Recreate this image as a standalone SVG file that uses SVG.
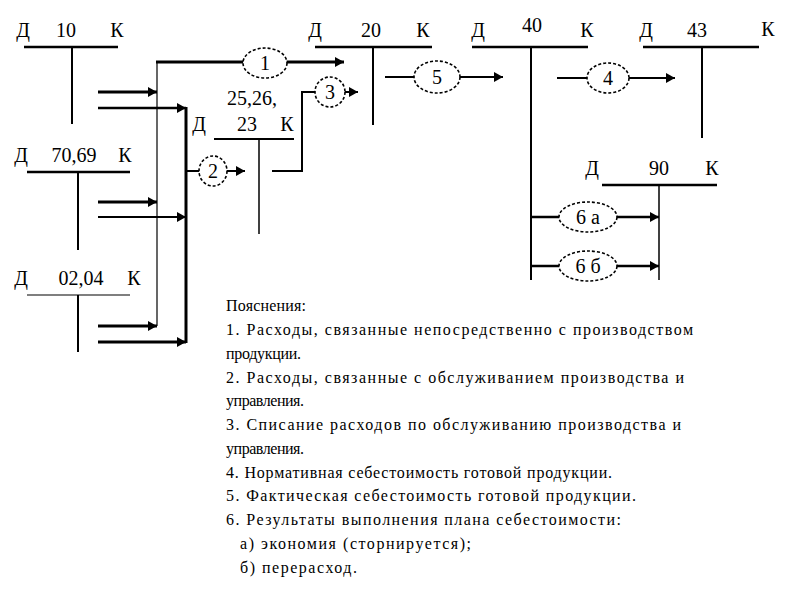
<svg xmlns="http://www.w3.org/2000/svg" width="794" height="595" viewBox="0 0 794 595">
<style>
text{font-family:"Liberation Serif","Times New Roman",serif;fill:#000}
.lb{font-size:20px;text-anchor:middle}
.ex{font-size:16px}
.acc{stroke:#000;fill:none}
.ell{fill:#fff;stroke:#000;stroke-width:1.6;stroke-dasharray:3 2}
.ln{stroke:#000;fill:none}
</style>
<defs>
<marker id="ah" markerUnits="userSpaceOnUse" markerWidth="12" markerHeight="12" refX="9" refY="5" orient="auto">
<path d="M0,0 L9,5 L0,10 z" fill="#000"/>
</marker>
</defs>
<rect width="794" height="595" fill="#fff"/>

<g id="acc10">
<text class="lb" x="23" y="37">Д</text><text class="lb" x="66" y="37">10</text><text class="lb" x="117" y="37">К</text>
<line class="acc" x1="24" y1="47" x2="118" y2="47" stroke-width="2.5"/>
<line class="acc" x1="72" y1="47" x2="72" y2="124" stroke-width="2"/>
</g>
<g id="acc7069">
<text class="lb" x="21" y="162">Д</text><text class="lb" x="74" y="162">70,69</text><text class="lb" x="125" y="162">К</text>
<line class="acc" x1="27" y1="172" x2="130" y2="172" stroke-width="2.5"/>
<line class="acc" x1="78" y1="172" x2="78" y2="250" stroke-width="2"/>
</g>
<g id="acc0204">
<text class="lb" x="21" y="285">Д</text><text class="lb" x="81" y="285">02,04</text><text class="lb" x="134" y="285">К</text>
<line class="acc" x1="27" y1="295" x2="130" y2="295" stroke-width="1.2"/>
<line class="acc" x1="78" y1="295" x2="78" y2="352" stroke-width="2"/>
</g>
<g id="acc252623">
<text class="lb" x="252" y="105">25,26,</text><text class="lb" x="247" y="131">23</text>
<text class="lb" x="199" y="131">Д</text><text class="lb" x="287" y="131">К</text>
<line class="acc" x1="214" y1="139" x2="294" y2="139" stroke-width="2"/>
<line class="acc" x1="259" y1="139" x2="259" y2="234" stroke-width="1.5"/>
</g>
<g id="acc20">
<text class="lb" x="315" y="37">Д</text><text class="lb" x="371" y="37">20</text><text class="lb" x="423" y="37">К</text>
<line class="acc" x1="315" y1="47" x2="432" y2="47" stroke-width="2.5"/>
<line class="acc" x1="373" y1="47" x2="373" y2="125" stroke-width="2"/>
</g>
<g id="acc40">
<text class="lb" x="478" y="37">Д</text><text class="lb" x="532" y="32">40</text><text class="lb" x="587" y="37">К</text>
<line class="acc" x1="472" y1="47" x2="588" y2="47" stroke-width="2.5"/>
<line class="acc" x1="531" y1="47" x2="531" y2="280" stroke-width="2"/>
</g>
<g id="acc43">
<text class="lb" x="646" y="37">Д</text><text class="lb" x="697" y="37">43</text><text class="lb" x="768" y="36">К</text>
<line class="acc" x1="643" y1="47" x2="759" y2="47" stroke-width="2.5"/>
<line class="acc" x1="702" y1="47" x2="702" y2="138" stroke-width="2"/>
</g>
<g id="acc90">
<text class="lb" x="592" y="175">Д</text><text class="lb" x="659" y="175">90</text><text class="lb" x="712" y="175">К</text>
<line class="acc" x1="602" y1="185" x2="717" y2="185" stroke-width="2.5"/>
<line class="acc" x1="659" y1="185" x2="659" y2="280" stroke-width="1.5"/>
</g>

<g id="connectors">
<line class="ln" x1="157" y1="62" x2="157" y2="326" stroke-width="1.2"/>
<line class="ln" x1="186" y1="107" x2="186" y2="343" stroke-width="3"/>
<line class="ln" x1="98" y1="92" x2="157" y2="92" stroke-width="3" marker-end="url(#ah)"/>
<line class="ln" x1="98" y1="108" x2="186" y2="108" stroke-width="2.5" marker-end="url(#ah)"/>
<line class="ln" x1="98" y1="202" x2="157" y2="202" stroke-width="3" marker-end="url(#ah)"/>
<line class="ln" x1="98" y1="217" x2="186" y2="217" stroke-width="2" marker-end="url(#ah)"/>
<line class="ln" x1="98" y1="326" x2="157" y2="326" stroke-width="3" marker-end="url(#ah)"/>
<line class="ln" x1="98" y1="342" x2="186" y2="342" stroke-width="3" marker-end="url(#ah)"/>
<polyline class="ln" points="156,62 344,62" stroke-width="3" marker-end="url(#ah)"/>
<line class="ln" x1="186" y1="171" x2="245" y2="171" stroke-width="2" marker-end="url(#ah)"/>
<polyline class="ln" points="272,171 302,171 302,92 358,92" stroke-width="2" marker-end="url(#ah)"/>
<line class="ln" x1="385" y1="77" x2="503" y2="77" stroke-width="2" marker-end="url(#ah)"/>
<line class="ln" x1="557" y1="78" x2="675" y2="78" stroke-width="2" marker-end="url(#ah)"/>
<line class="ln" x1="531" y1="217" x2="659" y2="217" stroke-width="2.5" marker-end="url(#ah)"/>
<line class="ln" x1="531" y1="266" x2="659" y2="266" stroke-width="2.5" marker-end="url(#ah)"/>
</g>

<g id="op1"><ellipse class="ell" cx="265" cy="63" rx="22" ry="15"/><text class="lb" x="265" y="70">1</text></g>
<g id="op2"><ellipse class="ell" cx="213" cy="171" rx="14" ry="15"/><text class="lb" x="213" y="178">2</text></g>
<g id="op3"><ellipse class="ell" cx="330" cy="92" rx="15" ry="15"/><text class="lb" x="330" y="99">3</text></g>
<g id="op5"><ellipse class="ell" cx="437" cy="77" rx="23" ry="16"/><text class="lb" x="437" y="84">5</text></g>
<g id="op4"><ellipse class="ell" cx="608" cy="78" rx="21" ry="15"/><text class="lb" x="608" y="85">4</text></g>
<g id="op6a"><ellipse class="ell" cx="588" cy="217" rx="29" ry="15"/><text class="lb" x="588" y="224">6 а</text></g>
<g id="op6b"><ellipse class="ell" cx="588" cy="266" rx="29" ry="15"/><text class="lb" x="588" y="273">6 б</text></g>

<g id="notes">
<text class="ex" x="226" y="311" textLength="80">Пояснения:</text>
<text class="ex" x="226" y="335" textLength="467">1. Расходы, связанные непосредственно с производством</text>
<text class="ex" x="226" y="359" textLength="75">продукции.</text>
<text class="ex" x="226" y="383" textLength="458">2. Расходы, связанные с обслуживанием производства и</text>
<text class="ex" x="226" y="406" textLength="78">управления.</text>
<text class="ex" x="226" y="430" textLength="455">3. Списание расходов по обслуживанию производства и</text>
<text class="ex" x="226" y="454" textLength="78">управления.</text>
<text class="ex" x="226" y="478" textLength="386">4. Нормативная себестоимость готовой продукции.</text>
<text class="ex" x="226" y="501" textLength="410">5. Фактическая себестоимость готовой продукции.</text>
<text class="ex" x="226" y="525" textLength="395">6. Результаты выполнения плана себестоимости:</text>
<text class="ex" x="240" y="549" textLength="231">а) экономия (сторнируется);</text>
<text class="ex" x="240" y="573" textLength="117">б) перерасход.</text>
</g>
</svg>
